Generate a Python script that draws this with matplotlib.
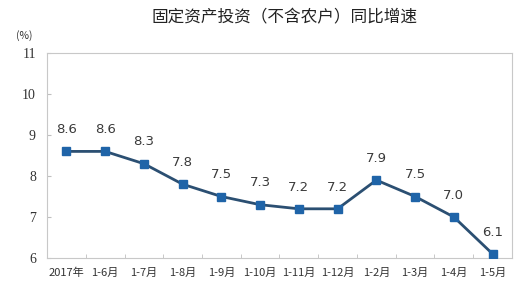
import matplotlib
matplotlib.use('Agg')
import matplotlib.pyplot as plt

plt.rcParams['font.family'] = ['Noto Sans CJK SC', 'DejaVu Sans']

# data
periods = ['2017年', '1-6月', '1-7月', '1-8月', '1-9月', '1-10月', '1-11月',
           '1-12月', '1-2月', '1-3月', '1-4月', '1-5月']
growth = [8.6, 8.6, 8.3, 7.8, 7.5, 7.3, 7.2, 7.2, 7.9, 7.5, 7.0, 6.1]
y_ticks = [6, 7, 8, 9, 10, 11]

fig = plt.figure(figsize=(5.3, 2.83), dpi=100)
ax = fig.add_axes([0.0887, 0.0883, 0.8773, 0.7244])

x = list(range(len(periods)))
ax.plot(x, growth, color='#2B4F72', linewidth=2, marker='s', markersize=6,
        markerfacecolor='#1F64A8', markeredgecolor='#1F64A8', zorder=3)

for xi, v in zip(x, growth):
    ax.annotate(f'{v:.1f}', (xi, v), xytext=(0, 11), textcoords='offset points',
                ha='center', va='bottom', fontsize=9.5, color='#3A3A3A',
                family='DejaVu Sans')

ax.set_xlim(-0.5, len(periods) - 0.5)
ax.set_ylim(6, 11)
ax.set_yticks(y_ticks)
ax.set_yticklabels([str(t) for t in y_ticks], family='Liberation Serif', fontsize=10)
ax.set_xticks(x)
ax.set_xticklabels(periods, fontsize=8)
ax.set_xticks([i + 0.5 for i in range(len(periods) - 1)], minor=True)
ax.tick_params(axis='x', which='major', length=0, pad=7, colors='#333333')
ax.tick_params(axis='x', which='minor', direction='in', length=3, color='#BFBFBF')
ax.tick_params(axis='y', direction='in', length=3, color='#BFBFBF', pad=8,
               labelcolor='#333333')

for s in ax.spines.values():
    s.set_color('#C8C8C8')
    s.set_linewidth(0.8)

fig.text(0.537, 0.936, '固定资产投资（不含农户）同比增速', ha='center', va='center',
         fontsize=12, color='#222222')
fig.text(0.045, 0.876, '(%)', ha='center', va='center', fontsize=7.5, color='#333333')

fig.savefig('out.png', dpi=100)
